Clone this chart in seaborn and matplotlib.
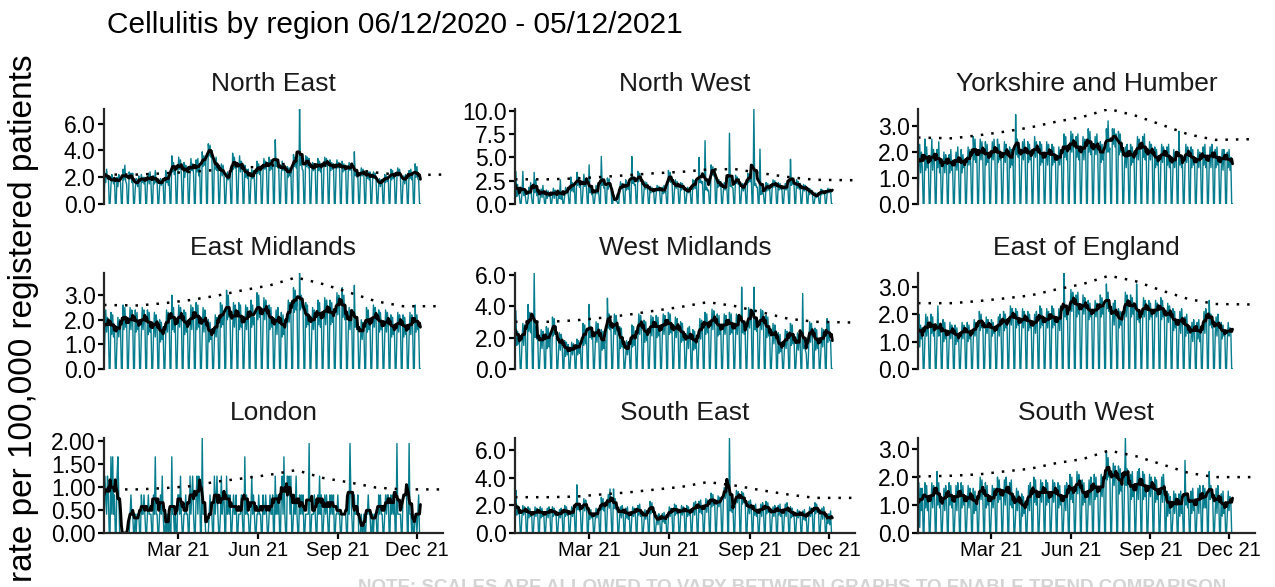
import numpy as np
import pandas as pd
import matplotlib
matplotlib.use("Agg")
import matplotlib.pyplot as plt
import seaborn as sns

# daily rate per 100,000 (Sun..Sat per row), 06/12/2020 - 05/12/2021
north_east = [
    0, 2.3, 1.6, 2.6, 1.9, 2.1, 0,
    0, 1.4, 2.2, 1.9, 1.5, 2.0, 0,
    0, 2.0, 1.3, 2.2, 1.7, 1.6, 0,
    0, 2.6, 1.8, 2.9, 1.7, 1.5, 0,
    0, 2.4, 1.9, 2.3, 1.6, 2.3, 0,
    0, 1.2, 1.9, 1.5, 1.3, 2.1, 0,
    0, 2.2, 1.6, 2.0, 1.5, 2.0, 0,
    0, 1.7, 2.3, 1.5, 2.4, 1.6, 0,
    0, 2.1, 1.5, 2.5, 1.6, 1.8, 0,
    0, 1.3, 1.9, 1.4, 1.8, 1.6, 0,
    0, 2.5, 1.6, 2.1, 1.4, 1.9, 0,
    0, 3.6, 2.4, 3.1, 2.2, 2.7, 0,
    0, 2.4, 3.5, 2.6, 3.3, 2.2, 0,
    0, 3.1, 2.0, 2.9, 2.4, 2.6, 0,
    0, 2.3, 3.4, 2.5, 3.0, 2.3, 0,
    0, 3.3, 2.4, 3.4, 2.1, 2.8, 0,
    0, 3.9, 2.8, 3.6, 2.9, 3.3, 0,
    0, 4.5, 3.6, 4.4, 3.5, 4.0, 0,
    0, 3.4, 2.6, 3.5, 2.5, 3.0, 0,
    0, 2.2, 3.0, 2.1, 2.9, 2.3, 0,
    0, 1.6, 2.4, 1.8, 2.3, 1.9, 0,
    0, 3.8, 2.6, 3.5, 2.7, 2.9, 0,
    0, 2.5, 3.6, 2.4, 3.2, 2.8, 0,
    0, 2.9, 2.0, 2.6, 1.9, 2.6, 0,
    0, 1.7, 2.6, 1.9, 2.5, 1.8, 0,
    0, 3.2, 2.3, 3.0, 2.2, 2.8, 0,
    0, 2.5, 3.4, 2.6, 3.2, 2.5, 0,
    0, 3.5, 2.5, 3.3, 2.6, 3.1, 0,
    0, 4.8, 2.8, 3.3, 2.7, 2.9, 0,
    0, 2.3, 3.2, 2.5, 3.0, 2.5, 0,
    0, 2.8, 2.0, 2.7, 2.1, 2.4, 0,
    0, 3.7, 2.8, 3.5, 2.7, 3.3, 0,
    0, 7.1, 2.9, 3.4, 2.6, 2.5, 0,
    0, 3.6, 2.8, 3.5, 2.7, 3.4, 0,
    0, 2.3, 3.1, 2.5, 3.0, 2.6, 0,
    0, 3.4, 2.5, 3.2, 2.4, 3.0, 0,
    0, 2.7, 3.5, 2.8, 3.4, 2.9, 0,
    0, 3.3, 2.5, 3.1, 2.6, 3.0, 0,
    0, 2.5, 3.3, 2.7, 3.1, 2.6, 0,
    0, 3.2, 2.4, 3.0, 2.5, 2.9, 0,
    0, 2.4, 3.1, 2.5, 3.0, 2.5, 0,
    0, 3.9, 2.1, 2.4, 2.0, 2.1, 0,
    0, 2.0, 2.7, 2.1, 2.6, 2.1, 0,
    0, 2.5, 1.9, 2.4, 1.8, 2.4, 0,
    0, 1.8, 2.4, 1.9, 2.3, 1.8, 0,
    0, 1.4, 1.9, 1.3, 1.8, 1.6, 0,
    0, 2.2, 1.6, 2.1, 1.7, 1.9, 0,
    0, 2.6, 1.8, 2.5, 1.9, 2.2, 0,
    0, 2.0, 2.7, 2.1, 2.6, 2.1, 0,
    0, 1.6, 2.1, 1.5, 2.2, 1.9, 0,
    0, 2.5, 1.9, 2.6, 1.8, 2.2, 0,
    0, 3.0, 2.0, 2.8, 1.9, 1.8, 0,
    0,
]

north_west = [
    0, 3.5, 0.8, 2.1, 1.0, 0.9, 0,
    0, 1.1, 3.5, 0.9, 1.6, 0.7, 0,
    0, 0.6, 1.8, 1.1, 2.3, 0.7, 0,
    0, 3.4, 1.2, 2.6, 0.9, 1.4, 0,
    0, 0.8, 1.6, 0.7, 2.0, 0.9, 0,
    0, 1.5, 0.6, 1.4, 0.8, 1.2, 0,
    0, 0.9, 1.7, 0.6, 1.5, 1.1, 0,
    0, 1.2, 0.6, 2.6, 0.5, 0.9, 0,
    0, 0.9, 1.8, 1.1, 1.6, 1.1, 0,
    0, 2.9, 1.4, 2.3, 1.3, 2.1, 0,
    0, 3.4, 2.0, 2.9, 1.8, 2.4, 0,
    0, 1.6, 3.2, 1.9, 2.6, 1.7, 0,
    0, 4.2, 1.2, 1.8, 1.0, 1.3, 0,
    0, 1.0, 2.0, 1.1, 1.7, 1.2, 0,
    0, 5.1, 2.0, 2.4, 1.7, 1.8, 0,
    0, 2.8, 1.6, 2.7, 1.9, 2.0, 0,
    0, 0.9, 0.4, 0.6, 0.3, 0.3, 0,
    0, 1.3, 2.4, 1.6, 2.2, 1.5, 0,
    0, 2.6, 1.5, 2.3, 1.6, 2.0, 0,
    0, 5.1, 2.2, 2.6, 2.0, 2.1, 0,
    0, 3.5, 2.4, 3.3, 2.6, 2.7, 0,
    0, 1.5, 2.4, 1.6, 2.3, 1.7, 0,
    0, 1.9, 1.2, 1.8, 1.3, 1.5, 0,
    0, 1.2, 2.0, 1.4, 1.9, 1.3, 0,
    0, 1.8, 1.1, 2.0, 1.2, 1.4, 0,
    0, 3.6, 2.4, 3.4, 2.3, 2.8, 0,
    0, 1.6, 2.6, 1.7, 2.4, 1.7, 0,
    0, 2.3, 1.5, 2.2, 1.6, 1.9, 0,
    0, 1.0, 1.8, 1.2, 1.7, 1.3, 0,
    0, 2.6, 1.6, 2.5, 1.7, 2.1, 0,
    0, 5.0, 2.3, 2.6, 2.2, 2.4, 0,
    0, 6.8, 1.5, 1.8, 1.4, 1.5, 0,
    0, 4.2, 3.1, 4.0, 3.0, 3.7, 0,
    0, 2.8, 1.8, 2.6, 1.9, 2.4, 0,
    0, 1.4, 2.3, 1.5, 2.1, 1.7, 0,
    0, 7.6, 1.9, 2.0, 1.8, 1.7, 0,
    0, 3.1, 2.2, 2.9, 2.1, 2.7, 0,
    0, 1.5, 2.2, 1.4, 2.1, 1.8, 0,
    0, 3.3, 2.3, 3.2, 2.4, 2.8, 0,
    0, 10.2, 2.0, 2.2, 1.8, 1.8, 0,
    0, 5.9, 1.0, 1.4, 1.1, 1.1, 0,
    0, 2.3, 1.4, 2.2, 1.5, 1.9, 0,
    0, 1.7, 2.6, 1.8, 2.5, 1.9, 0,
    0, 2.3, 1.5, 2.2, 1.6, 1.9, 0,
    0, 1.4, 2.2, 1.5, 2.1, 1.8, 0,
    0, 4.8, 2.0, 2.4, 2.1, 2.2, 0,
    0, 2.6, 1.7, 2.4, 1.6, 2.2, 0,
    0, 1.3, 2.1, 1.4, 2.0, 1.7, 0,
    0, 1.7, 1.0, 1.6, 1.1, 1.4, 0,
    0, 0.6, 1.2, 0.7, 1.1, 0.9, 0,
    0, 1.6, 1.0, 1.5, 1.1, 1.3, 0,
    0, 1.1, 1.7, 1.2, 1.6, 1.4, 0,
    0,
]

yorkshire = [
    0, 1.4, 2.3, 1.2, 2.0, 1.4, 0,
    0, 2.5, 1.3, 2.2, 1.4, 1.6, 0,
    0, 1.5, 2.5, 1.3, 2.1, 1.6, 0,
    0, 2.1, 1.4, 2.4, 1.2, 1.65, 0,
    0, 1.3, 2.0, 1.2, 1.9, 1.6, 0,
    0, 1.9, 1.2, 2.1, 1.3, 1.5, 0,
    0, 1.4, 2.0, 1.3, 2.2, 1.35, 0,
    0, 2.1, 1.2, 1.9, 1.4, 1.65, 0,
    0, 1.4, 2.2, 1.5, 2.1, 1.55, 0,
    0, 2.6, 1.7, 2.5, 1.6, 2.1, 0,
    0, 1.6, 2.5, 1.7, 2.4, 1.8, 0,
    0, 2.4, 1.5, 2.3, 1.6, 1.95, 0,
    0, 1.6, 2.4, 1.7, 2.5, 1.8, 0,
    0, 2.5, 1.6, 2.3, 1.7, 1.9, 0,
    0, 1.5, 2.4, 1.6, 2.3, 1.95, 0,
    0, 2.2, 1.4, 2.1, 1.5, 1.8, 0,
    0, 3.45, 1.9, 2.5, 1.8, 2.1, 0,
    0, 1.6, 2.4, 1.7, 2.5, 1.8, 0,
    0, 2.4, 1.6, 2.3, 1.7, 2.0, 0,
    0, 1.7, 2.6, 1.8, 2.4, 2.0, 0,
    0, 2.4, 1.5, 2.3, 1.6, 1.95, 0,
    0, 1.6, 2.4, 1.5, 2.3, 1.95, 0,
    0, 2.3, 1.5, 2.2, 1.6, 1.9, 0,
    0, 1.4, 2.2, 1.5, 2.1, 1.8, 0,
    0, 2.7, 1.8, 2.6, 1.7, 2.2, 0,
    0, 1.9, 2.8, 2.0, 2.7, 2.1, 0,
    0, 2.6, 1.8, 2.7, 1.7, 2.2, 0,
    0, 1.8, 2.6, 1.7, 2.5, 2.15, 0,
    0, 2.9, 2.0, 2.8, 1.9, 2.4, 0,
    0, 1.8, 2.6, 1.9, 2.7, 2.0, 0,
    0, 2.4, 1.6, 2.3, 1.7, 2.0, 0,
    0, 2.9, 2.0, 3.2, 2.0, 2.15, 0,
    0, 2.9, 2.3, 2.9, 2.2, 2.7, 0,
    0, 2.8, 1.9, 2.7, 2.0, 2.35, 0,
    0, 1.5, 2.2, 1.4, 2.3, 1.85, 0,
    0, 2.3, 1.5, 2.2, 1.6, 1.9, 0,
    0, 1.8, 2.6, 1.7, 2.5, 2.15, 0,
    0, 2.6, 1.8, 2.7, 1.7, 2.2, 0,
    0, 1.6, 2.4, 1.7, 2.3, 2.0, 0,
    0, 2.2, 1.4, 2.1, 1.5, 1.8, 0,
    0, 1.5, 2.3, 1.6, 2.2, 1.9, 0,
    0, 2.2, 1.5, 2.3, 1.4, 1.85, 0,
    0, 1.3, 2.1, 1.4, 2.0, 1.7, 0,
    0, 2.8, 1.5, 1.9, 1.4, 1.65, 0,
    0, 1.5, 2.3, 1.6, 2.2, 1.9, 0,
    0, 2.2, 1.4, 2.1, 1.5, 1.8, 0,
    0, 1.3, 2.1, 1.4, 2.0, 1.7, 0,
    0, 2.2, 1.5, 2.3, 1.4, 1.85, 0,
    0, 1.5, 2.2, 1.4, 2.3, 1.85, 0,
    0, 2.1, 1.4, 2.2, 1.5, 1.8, 0,
    0, 1.4, 2.1, 1.3, 2.1, 1.85, 0,
    0, 2.0, 1.4, 2.1, 1.3, 1.8, 0,
    0,
]

east_midlands = [
    0, 1.3, 2.4, 1.5, 2.1, 1.7, 0,
    0, 2.3, 1.4, 2.2, 1.3, 1.8, 0,
    0, 1.2, 2.1, 1.3, 2.0, 1.65, 0,
    0, 2.6, 1.6, 2.5, 1.7, 2.1, 0,
    0, 1.5, 2.5, 1.6, 2.4, 2.0, 0,
    0, 2.4, 1.5, 2.3, 1.6, 1.95, 0,
    0, 1.5, 2.5, 1.6, 2.4, 2.0, 0,
    0, 2.4, 1.4, 2.3, 1.5, 1.9, 0,
    0, 1.4, 2.3, 1.3, 2.2, 1.8, 0,
    0, 2.0, 1.1, 1.9, 1.2, 1.55, 0,
    0, 1.4, 2.4, 1.5, 2.3, 1.9, 0,
    0, 3.0, 1.6, 2.5, 1.5, 1.9, 0,
    0, 1.6, 2.6, 1.7, 2.5, 2.1, 0,
    0, 2.4, 1.4, 2.3, 1.5, 1.9, 0,
    0, 1.5, 2.6, 1.6, 2.5, 2.05, 0,
    0, 2.7, 1.6, 2.6, 1.7, 2.15, 0,
    0, 1.4, 2.5, 1.5, 2.4, 1.95, 0,
    0, 2.0, 1.1, 1.9, 1.2, 1.55, 0,
    0, 1.2, 2.2, 1.3, 2.1, 1.7, 0,
    0, 2.7, 1.7, 2.6, 1.8, 2.2, 0,
    0, 3.2, 2.0, 3.0, 2.1, 2.2, 0,
    0, 1.6, 2.7, 1.7, 2.6, 2.15, 0,
    0, 2.7, 1.6, 2.6, 1.7, 2.15, 0,
    0, 1.5, 2.6, 1.6, 2.5, 2.05, 0,
    0, 2.8, 1.7, 2.6, 1.8, 2.1, 0,
    0, 3.1, 2.0, 3.0, 2.1, 2.3, 0,
    0, 1.9, 2.9, 2.0, 2.8, 2.4, 0,
    0, 2.6, 1.6, 2.5, 1.7, 2.1, 0,
    0, 1.5, 2.4, 1.4, 2.5, 1.95, 0,
    0, 2.3, 1.3, 2.2, 1.4, 1.8, 0,
    0, 1.8, 2.8, 1.9, 2.7, 2.3, 0,
    0, 3.3, 2.3, 3.2, 2.4, 2.8, 0,
    0, 3.9, 2.4, 3.0, 2.5, 2.45, 0,
    0, 2.7, 1.7, 2.6, 1.8, 2.2, 0,
    0, 1.5, 2.5, 1.6, 2.4, 2.0, 0,
    0, 2.8, 1.8, 2.7, 1.7, 2.25, 0,
    0, 1.9, 2.9, 1.8, 2.8, 2.35, 0,
    0, 2.8, 1.8, 2.7, 1.9, 2.3, 0,
    0, 2.1, 3.1, 2.2, 3.0, 2.6, 0,
    0, 3.3, 2.1, 3.0, 2.0, 2.6, 0,
    0, 1.5, 2.5, 1.6, 2.4, 2.0, 0,
    0, 3.4, 1.7, 2.0, 1.6, 1.8, 0,
    0, 1.1, 2.0, 1.2, 1.9, 1.55, 0,
    0, 2.5, 1.5, 2.4, 1.6, 2.0, 0,
    0, 1.6, 2.6, 1.7, 2.5, 2.1, 0,
    0, 2.4, 1.5, 2.3, 1.6, 1.95, 0,
    0, 1.4, 2.4, 1.5, 2.3, 1.9, 0,
    0, 2.2, 1.3, 2.1, 1.4, 1.75, 0,
    0, 1.4, 2.3, 1.5, 2.2, 1.85, 0,
    0, 2.2, 1.3, 2.1, 1.4, 1.75, 0,
    0, 1.3, 2.3, 1.4, 2.2, 1.8, 0,
    0, 2.6, 1.5, 2.2, 1.6, 1.8, 0,
    0,
]

west_midlands = [
    0, 3.7, 1.5, 2.4, 1.6, 1.8, 0,
    0, 1.6, 2.9, 1.5, 2.8, 2.2, 0,
    0, 4.1, 2.4, 3.6, 2.3, 3.1, 0,
    0, 6.1, 2.0, 2.7, 1.9, 2.3, 0,
    0, 1.2, 2.5, 1.3, 2.4, 1.85, 0,
    0, 2.7, 1.3, 2.6, 1.4, 2.0, 0,
    0, 3.3, 2.1, 3.2, 2.2, 2.7, 0,
    0, 1.1, 2.3, 1.2, 2.2, 1.7, 0,
    0, 1.8, 0.8, 1.7, 0.9, 1.55, 0,
    0, 0.8, 1.7, 0.9, 1.6, 1.25, 0,
    0, 1.9, 0.9, 1.8, 1.0, 1.4, 0,
    0, 2.9, 1.5, 2.8, 1.6, 2.2, 0,
    0, 4.1, 2.0, 2.7, 1.9, 2.3, 0,
    0, 1.6, 3.0, 1.7, 2.9, 2.3, 0,
    0, 2.5, 1.2, 2.4, 1.3, 1.85, 0,
    0, 4.5, 2.6, 3.5, 2.5, 2.9, 0,
    0, 2.1, 3.5, 2.2, 3.4, 2.8, 0,
    0, 2.7, 1.3, 2.6, 1.4, 2.0, 0,
    0, 0.8, 1.8, 0.9, 1.7, 1.3, 0,
    0, 2.8, 1.4, 2.7, 1.5, 2.1, 0,
    0, 2.1, 3.5, 2.2, 3.4, 2.8, 0,
    0, 3.1, 1.7, 3.0, 1.8, 2.4, 0,
    0, 2.0, 3.4, 2.1, 3.3, 2.7, 0,
    0, 3.4, 2.0, 3.3, 2.1, 2.7, 0,
    0, 2.1, 3.5, 2.2, 3.4, 2.8, 0,
    0, 3.6, 2.2, 3.5, 2.3, 2.9, 0,
    0, 1.9, 3.3, 2.0, 3.2, 2.6, 0,
    0, 3.0, 1.7, 2.9, 1.8, 2.35, 0,
    0, 1.4, 2.6, 1.3, 2.7, 2.0, 0,
    0, 2.5, 1.2, 2.4, 1.3, 1.85, 0,
    0, 1.8, 3.2, 1.9, 3.1, 2.5, 0,
    0, 3.6, 2.2, 3.5, 2.3, 2.9, 0,
    0, 2.4, 3.8, 2.5, 3.7, 3.1, 0,
    0, 3.5, 2.1, 3.4, 2.2, 2.8, 0,
    0, 2.1, 3.5, 2.2, 3.4, 2.8, 0,
    0, 3.6, 2.2, 3.5, 2.3, 2.9, 0,
    0, 2.1, 3.5, 2.2, 3.4, 2.8, 0,
    0, 5.2, 2.3, 2.9, 2.2, 2.4, 0,
    0, 2.5, 3.9, 2.6, 3.8, 3.2, 0,
    0, 5.2, 2.5, 3.2, 2.4, 2.95, 0,
    0, 2.4, 3.8, 2.5, 3.7, 3.1, 0,
    0, 3.4, 2.0, 3.3, 2.1, 2.7, 0,
    0, 1.5, 2.9, 1.6, 2.8, 2.2, 0,
    0, 2.3, 1.0, 2.2, 1.1, 1.4, 0,
    0, 1.2, 2.5, 1.3, 2.4, 1.85, 0,
    0, 2.9, 1.5, 2.8, 1.6, 2.2, 0,
    0, 1.1, 2.3, 1.2, 2.2, 1.7, 0,
    0, 4.8, 1.3, 1.5, 1.2, 1.0, 0,
    0, 1.6, 3.0, 1.7, 2.9, 2.3, 0,
    0, 2.6, 1.2, 2.5, 1.3, 1.9, 0,
    0, 1.3, 2.6, 1.4, 2.5, 1.95, 0,
    0, 3.2, 1.7, 3.0, 1.8, 1.8, 0,
    0,
]

east_of_england = [
    0, 2.0, 0.8, 1.6, 1.1, 1.5, 0,
    0, 1.1, 2.0, 1.2, 1.9, 1.3, 0,
    0, 2.0, 1.3, 1.9, 1.2, 1.6, 0,
    0, 1.1, 2.3, 1.2, 1.5, 1.4, 0,
    0, 1.8, 1.0, 1.7, 1.1, 1.4, 0,
    0, 1.0, 1.7, 1.1, 1.6, 1.35, 0,
    0, 1.6, 0.9, 1.5, 1.0, 1.25, 0,
    0, 1.0, 1.7, 1.1, 1.6, 1.35, 0,
    0, 1.7, 1.0, 1.6, 1.1, 1.35, 0,
    0, 1.1, 1.8, 1.2, 1.7, 1.45, 0,
    0, 2.1, 1.4, 2.0, 1.5, 1.75, 0,
    0, 1.2, 1.9, 1.3, 1.8, 1.55, 0,
    0, 1.8, 1.2, 1.7, 1.3, 1.5, 0,
    0, 1.3, 1.9, 1.2, 2.0, 1.6, 0,
    0, 2.1, 1.4, 2.0, 1.5, 1.75, 0,
    0, 1.5, 2.3, 1.6, 2.2, 1.9, 0,
    0, 2.2, 1.5, 2.1, 1.6, 1.85, 0,
    0, 1.4, 2.2, 1.5, 2.1, 1.8, 0,
    0, 2.1, 1.4, 2.0, 1.5, 1.75, 0,
    0, 1.4, 2.0, 1.3, 2.1, 1.7, 0,
    0, 2.3, 1.5, 2.2, 1.6, 1.9, 0,
    0, 1.4, 2.2, 1.5, 2.1, 1.8, 0,
    0, 2.3, 1.5, 2.2, 1.6, 1.9, 0,
    0, 1.5, 2.2, 1.4, 2.3, 1.85, 0,
    0, 3.5, 1.9, 2.3, 1.8, 2.0, 0,
    0, 2.0, 2.9, 2.1, 2.8, 2.45, 0,
    0, 2.7, 1.9, 2.8, 2.0, 2.35, 0,
    0, 1.9, 2.7, 2.0, 2.6, 2.3, 0,
    0, 2.5, 1.8, 2.4, 1.9, 2.15, 0,
    0, 1.8, 2.5, 1.9, 2.4, 2.15, 0,
    0, 2.7, 1.9, 2.6, 2.0, 2.3, 0,
    0, 3.1, 2.2, 2.8, 2.1, 2.3, 0,
    0, 1.7, 2.4, 1.6, 2.5, 2.05, 0,
    0, 2.2, 1.5, 2.1, 1.6, 1.85, 0,
    0, 2.0, 2.8, 1.9, 2.7, 2.35, 0,
    0, 2.7, 1.9, 2.6, 2.0, 2.3, 0,
    0, 3.1, 1.8, 2.0, 1.7, 2.1, 0,
    0, 1.8, 2.6, 1.9, 2.5, 2.2, 0,
    0, 2.5, 1.8, 2.4, 1.9, 2.15, 0,
    0, 1.8, 2.5, 1.9, 2.4, 2.15, 0,
    0, 2.6, 1.8, 2.5, 1.9, 2.2, 0,
    0, 1.6, 2.4, 1.7, 2.3, 2.0, 0,
    0, 2.2, 1.4, 2.1, 1.5, 1.8, 0,
    0, 1.4, 2.1, 1.3, 2.2, 1.75, 0,
    0, 1.9, 1.2, 2.0, 1.3, 1.6, 0,
    0, 1.1, 1.7, 1.0, 1.8, 1.4, 0,
    0, 1.7, 1.1, 1.8, 1.0, 1.4, 0,
    0, 1.4, 2.1, 1.3, 2.2, 1.75, 0,
    0, 2.5, 1.6, 2.0, 1.5, 1.9, 0,
    0, 1.3, 1.9, 1.2, 2.0, 1.6, 0,
    0, 1.7, 1.1, 1.6, 1.2, 1.4, 0,
    0, 1.1, 1.7, 1.2, 1.5, 1.4, 0,
    0,
]

london = [
    0, 1.24, 0.83, 0.41, 1.24, 0.83, 0,
    0, 1.66, 0.41, 1.66, 0.41, 0.83, 0,
    0, 1.24, 1.66, 0.83, 0, 0, 0,
    0, 0, 0, 0, 0, 0, 0,
    0, 0, 0.41, 0.83, 0.41, 0.41, 0,
    0, 0.41, 0, 0.41, 0.41, 0.41, 0,
    0, 0.83, 0.41, 0.41, 0.83, 0.41, 0,
    0, 0.41, 0.83, 0.41, 0.41, 0.41, 0,
    0, 0.83, 0.41, 1.66, 0.41, 0.41, 0,
    0, 0.41, 0.83, 0.41, 1.24, 0.41, 0,
    0, 0.41, 0, 0.41, 0, 0.41, 0,
    0, 1.66, 0.41, 0.41, 0, 0.41, 0,
    0, 0.83, 0.83, 0.41, 1.24, 0.41, 0,
    0, 0.41, 0.41, 0.83, 0.41, 0.41, 0,
    0, 1.24, 0.41, 0.83, 1.24, 0.41, 0,
    0, 0.83, 1.24, 0.41, 1.24, 0.83, 0,
    0, 2.07, 0.41, 0.41, 0.41, 0, 0,
    0, 0, 0.41, 0.83, 0.41, 0.41, 0,
    0, 1.24, 0.41, 0.83, 1.24, 0.41, 0,
    0, 0.41, 1.24, 0.41, 0.83, 0.83, 0,
    0, 1.24, 0.41, 0.83, 0.41, 0.83, 0,
    0, 0.41, 0.83, 0.41, 0.41, 0.83, 0,
    0, 0.41, 0.41, 0.41, 0.83, 0.41, 0,
    0, 1.66, 0.41, 0.83, 0.41, 0.41, 0,
    0, 0.41, 1.24, 0.41, 0.83, 0.41, 0,
    0, 0.41, 0.41, 0.83, 0.41, 0.41, 0,
    0, 0.83, 0.41, 0.41, 0.83, 0.41, 0,
    0, 0.41, 0.83, 0.41, 0.41, 0.83, 0,
    0, 1.24, 0.41, 0.83, 0.41, 0.83, 0,
    0, 0.83, 1.24, 0.41, 1.66, 0.41, 0,
    0, 1.24, 0.83, 1.24, 0.41, 1.24, 0,
    0, 0.41, 0.83, 0.41, 1.24, 0.41, 0,
    0, 0.83, 0.41, 0.83, 0.41, 0.83, 0,
    0, 0.41, 0.41, 0.41, 0.41, 1.95, 0,
    0, 0.41, 0.41, 0.41, 0.83, 0.41, 0,
    0, 0.83, 0.41, 1.24, 0.41, 0.83, 0,
    0, 0.41, 0.83, 0.41, 0.83, 0.41, 0,
    0, 0.83, 0.41, 0.83, 0.41, 0.83, 0,
    0, 0.41, 0.41, 0.83, 0.41, 0.41, 0,
    0, 0.41, 0.41, 0.41, 0.41, 0.41, 0,
    0, 0.83, 0.41, 1.95, 0.83, 0.41, 0,
    0, 0.83, 0.41, 0.41, 0.41, 0.83, 0,
    0, 0, 0.41, 0, 0, 0.41, 0,
    0, 0.41, 0.41, 0.83, 0.41, 0.41, 0,
    0, 0.41, 0, 0.41, 0.41, 0.41, 0,
    0, 0.83, 0.41, 0.83, 0.41, 0.41, 0,
    0, 0.41, 0.83, 0.41, 0.83, 0.83, 0,
    0, 0.83, 0.41, 0.83, 0.41, 0.83, 0,
    0, 1.95, 0.41, 0.41, 0.41, 0.41, 0,
    0, 0.83, 0.83, 0.83, 0.83, 0.83, 0,
    0, 1.95, 0.41, 0.41, 0, 0.41, 0,
    0, 0.41, 0.41, 0, 0.41, 0.83, 0,
    0,
]

south_east = [
    0, 3.1, 1.3, 2.0, 1.4, 1.5, 0,
    0, 1.2, 2.0, 1.3, 1.9, 1.6, 0,
    0, 1.9, 1.1, 1.8, 1.2, 1.5, 0,
    0, 1.1, 1.9, 1.2, 1.8, 1.5, 0,
    0, 1.9, 1.1, 1.8, 1.2, 1.5, 0,
    0, 1.2, 1.8, 1.1, 1.9, 1.5, 0,
    0, 1.9, 1.2, 1.8, 1.3, 1.55, 0,
    0, 1.0, 1.7, 1.1, 1.8, 1.4, 0,
    0, 2.0, 1.2, 1.9, 1.3, 1.6, 0,
    0, 1.1, 1.9, 1.2, 1.8, 1.5, 0,
    0, 3.5, 1.7, 2.0, 1.6, 1.7, 0,
    0, 1.7, 2.5, 1.6, 2.4, 2.05, 0,
    0, 1.8, 1.0, 1.7, 1.1, 1.4, 0,
    0, 1.0, 1.8, 1.1, 1.7, 1.4, 0,
    0, 2.6, 1.7, 2.5, 1.6, 2.1, 0,
    0, 1.9, 2.8, 1.8, 3.2, 1.8, 0,
    0, 3.2, 1.8, 2.5, 1.7, 1.8, 0,
    0, 1.2, 1.9, 1.1, 2.0, 1.55, 0,
    0, 1.8, 1.1, 1.9, 1.0, 1.45, 0,
    0, 1.1, 1.9, 1.2, 1.8, 1.5, 0,
    0, 2.0, 1.3, 2.1, 1.2, 1.65, 0,
    0, 0.9, 1.7, 1.0, 1.6, 1.3, 0,
    0, 2.3, 1.4, 2.2, 1.5, 1.85, 0,
    0, 0.7, 1.3, 0.6, 1.4, 1.0, 0,
    0, 1.4, 0.8, 1.5, 0.7, 1.1, 0,
    0, 1.1, 1.9, 1.2, 1.8, 1.5, 0,
    0, 2.1, 1.3, 2.0, 1.4, 1.7, 0,
    0, 1.2, 2.0, 1.3, 1.9, 1.6, 0,
    0, 2.0, 1.2, 1.9, 1.3, 1.6, 0,
    0, 1.4, 2.2, 1.3, 2.3, 1.8, 0,
    0, 2.3, 1.5, 2.4, 1.4, 1.9, 0,
    0, 1.6, 2.5, 1.5, 2.4, 2.0, 0,
    0, 2.9, 1.9, 2.8, 2.0, 2.4, 0,
    0, 1.8, 2.7, 1.9, 2.6, 2.25, 0,
    0, 2.4, 3.3, 2.5, 3.0, 3.8, 0,
    0, 6.9, 1.6, 2.0, 1.5, 1.9, 0,
    0, 2.1, 3.1, 2.2, 3.0, 2.6, 0,
    0, 3.0, 2.1, 2.9, 2.2, 2.55, 0,
    0, 1.5, 2.3, 1.4, 2.4, 1.9, 0,
    0, 2.0, 1.3, 2.1, 1.2, 1.65, 0,
    0, 1.3, 2.1, 1.2, 2.2, 1.7, 0,
    0, 2.3, 1.4, 2.2, 1.5, 1.85, 0,
    0, 1.1, 1.9, 1.2, 2.0, 1.55, 0,
    0, 2.0, 1.3, 2.1, 1.2, 1.65, 0,
    0, 1.3, 2.1, 1.2, 2.2, 1.7, 0,
    0, 1.9, 1.1, 1.8, 1.2, 1.5, 0,
    0, 1.0, 1.7, 1.1, 1.6, 1.35, 0,
    0, 1.6, 1.0, 1.7, 0.9, 1.3, 0,
    0, 1.1, 1.9, 1.2, 1.8, 1.5, 0,
    0, 2.2, 1.4, 2.1, 1.5, 1.8, 0,
    0, 1.1, 1.8, 1.0, 1.9, 1.45, 0,
    0, 1.3, 0.7, 1.4, 0.6, 1.6, 0,
    0,
]

south_west = [
    0, 1.8, 0.2, 1.6, 0.8, 1.6, 0,
    0, 1.8, 0.9, 1.7, 0.8, 1.3, 0,
    0, 1.0, 1.8, 0.9, 1.7, 1.35, 0,
    0, 2.2, 1.0, 1.8, 0.9, 1.1, 0,
    0, 0.9, 1.6, 0.8, 1.7, 1.25, 0,
    0, 1.8, 1.0, 1.7, 0.9, 1.35, 0,
    0, 0.9, 1.7, 0.8, 1.8, 1.3, 0,
    0, 1.8, 0.9, 1.7, 1.0, 1.35, 0,
    0, 0.8, 1.7, 0.9, 1.6, 1.25, 0,
    0, 1.6, 0.7, 1.5, 0.8, 1.15, 0,
    0, 1.1, 2.0, 1.2, 1.9, 1.3, 0,
    0, 1.8, 0.9, 1.7, 1.0, 1.35, 0,
    0, 0.8, 1.7, 0.9, 1.6, 1.25, 0,
    0, 2.0, 1.1, 1.9, 1.2, 1.55, 0,
    0, 1.1, 1.9, 1.0, 2.0, 1.5, 0,
    0, 1.8, 1.0, 1.9, 0.9, 1.4, 0,
    0, 0.7, 1.6, 0.8, 1.5, 1.15, 0,
    0, 1.4, 0.6, 1.3, 0.7, 1.0, 0,
    0, 0.9, 1.7, 0.8, 1.8, 1.3, 0,
    0, 2.0, 1.1, 1.9, 1.0, 1.5, 0,
    0, 1.0, 1.9, 1.1, 1.8, 1.45, 0,
    0, 1.9, 1.0, 1.8, 1.1, 1.45, 0,
    0, 1.0, 1.9, 1.1, 1.8, 1.45, 0,
    0, 1.8, 0.9, 1.7, 1.0, 1.35, 0,
    0, 0.9, 1.7, 0.8, 1.8, 1.3, 0,
    0, 2.1, 1.2, 2.0, 1.1, 1.6, 0,
    0, 1.3, 2.2, 1.4, 2.1, 1.75, 0,
    0, 1.9, 1.0, 1.8, 1.1, 1.45, 0,
    0, 1.1, 1.9, 1.0, 2.0, 1.5, 0,
    0, 2.1, 1.2, 2.0, 1.3, 1.65, 0,
    0, 1.2, 2.1, 1.3, 2.0, 1.65, 0,
    0, 2.95, 1.9, 2.7, 2.0, 2.2, 0,
    0, 1.6, 2.5, 1.7, 2.4, 2.05, 0,
    0, 2.4, 1.4, 2.3, 1.5, 1.9, 0,
    0, 1.6, 3.4, 1.7, 2.3, 1.5, 0,
    0, 2.1, 1.2, 2.2, 1.3, 1.7, 0,
    0, 1.3, 2.2, 1.2, 2.3, 1.75, 0,
    0, 2.2, 1.2, 2.1, 1.3, 1.7, 0,
    0, 1.2, 2.1, 1.3, 2.0, 1.65, 0,
    0, 2.0, 1.1, 1.9, 1.2, 1.55, 0,
    0, 1.2, 2.0, 1.1, 2.1, 1.6, 0,
    0, 1.5, 0.6, 1.4, 0.7, 1.3, 0,
    0, 0.6, 1.5, 0.7, 1.4, 1.05, 0,
    0, 1.4, 0.6, 1.5, 0.7, 1.05, 0,
    0, 2.6, 1.0, 1.4, 0.9, 1.1, 0,
    0, 1.5, 0.7, 1.6, 0.8, 1.15, 0,
    0, 0.8, 1.6, 0.7, 1.7, 1.2, 0,
    0, 1.7, 0.9, 1.6, 0.9, 1.4, 0,
    0, 2.2, 1.2, 1.7, 1.3, 1.35, 0,
    0, 0.8, 1.6, 0.7, 1.7, 1.2, 0,
    0, 1.4, 0.6, 1.5, 0.7, 1.05, 0,
    0, 0.7, 1.5, 0.8, 1.3, 1.2, 0,
    0,
]

# dotted seasonal comparison line, read at these dates
baseline_dates = ["2020-12-06", "2021-01-15", "2021-02-15", "2021-03-15", "2021-04-15",
                  "2021-05-15", "2021-06-15", "2021-07-15", "2021-08-15", "2021-09-15",
                  "2021-10-15", "2021-11-15", "2021-12-31"]
baseline = {
    "North East": [2.2, 2.2, 2.3, 2.4, 2.55, 2.7, 2.85, 3.1, 2.9, 2.6, 2.35, 2.15, 2.2],
    "North West": [2.65, 2.65, 2.75, 2.9, 3.1, 3.3, 3.45, 3.7, 3.75, 3.3, 2.9, 2.6, 2.55],
    "Yorkshire and Humber": [2.56, 2.53, 2.65, 2.78, 2.95, 3.17, 3.36, 3.66, 3.4, 3.04, 2.68, 2.47, 2.5],
    "East Midlands": [2.6, 2.58, 2.68, 2.8, 2.98, 3.2, 3.4, 3.72, 3.45, 3.1, 2.75, 2.55, 2.55],
    "West Midlands": [3.0, 3.0, 3.1, 3.25, 3.45, 3.7, 3.95, 4.25, 4.0, 3.6, 3.2, 3.0, 2.95],
    "East of England": [2.4, 2.4, 2.48, 2.57, 2.68, 2.9, 3.1, 3.4, 3.2, 2.85, 2.55, 2.37, 2.35],
    "London": [0.95, 0.95, 0.98, 1.02, 1.12, 1.19, 1.27, 1.37, 1.2, 1.1, 0.99, 0.95, 0.95],
    "South East": [2.6, 2.6, 2.65, 2.8, 2.95, 3.15, 3.35, 3.7, 3.45, 3.1, 2.8, 2.55, 2.55],
    "South West": [2.02, 2.05, 2.1, 2.2, 2.3, 2.5, 2.65, 2.95, 2.75, 2.45, 2.15, 2.0, 2.0],
}

regions = ["North East", "North West", "Yorkshire and Humber",
           "East Midlands", "West Midlands", "East of England",
           "London", "South East", "South West"]
daily = [north_east, north_west, yorkshire, east_midlands, west_midlands,
         east_of_england, london, south_east, south_west]
yticks = [[0, 2, 4, 6], [0, 2.5, 5, 7.5, 10], [0, 1, 2, 3],
          [0, 1, 2, 3], [0, 2, 4, 6], [0, 1, 2, 3],
          [0, 0.5, 1, 1.5, 2], [0, 2, 4, 6], [0, 1, 2, 3]]
xtick_dates = ["2021-03-01", "2021-06-01", "2021-09-01", "2021-12-01"]
xtick_labels = ["Mar 21", "Jun 21", "Sep 21", "Dec 21"]

dates = pd.date_range("2020-12-06", "2021-12-05", freq="D")
bdates = pd.to_datetime(baseline_dates)

sns.set_style("ticks")
plt.rcParams["font.family"] = ["Liberation Sans", "DejaVu Sans"]

W, H = 1275, 587
fig = plt.figure(figsize=(W / 100, H / 100), dpi=100)

col_left = [104, 515, 918]
col_right = [443, 855, 1255]
row_top = [109, 273, 438]
row_bottom = [204, 369, 533]
teal = "#067d8e"

for i, name in enumerate(regions):
    r, c = divmod(i, 3)
    ax = fig.add_axes([col_left[c] / W, 1 - row_bottom[r] / H,
                       (col_right[c] - col_left[c]) / W,
                       (row_bottom[r] - row_top[r]) / H])
    s = pd.Series(daily[i], index=dates, dtype=float)
    # 7 day mean over weekdays only
    smooth = s.where(dates.dayofweek < 5).rolling(7, center=True, min_periods=1).mean()

    sns.lineplot(x=dates, y=s.values, ax=ax, color=teal, lw=1.0)
    sns.lineplot(x=dates, y=smooth.values, ax=ax, color="black", lw=2.1)
    sns.lineplot(x=bdates, y=baseline[name], ax=ax, color="black", lw=1.8,
                 linestyle=(0, (1, 3.2)))

    top = max(s.max(), max(baseline[name]))
    ax.set_ylim(0, top)
    ax.set_xlim(pd.Timestamp("2020-12-06"), pd.Timestamp("2021-12-31"))
    ax.set_yticks(yticks[i])
    fmt = "{:.2f}" if name == "London" else "{:.1f}"
    ax.set_yticklabels([fmt.format(t) for t in yticks[i]])
    ax.set_xlabel("")
    ax.set_ylabel("")
    sns.despine(ax=ax)
    ax.spines["left"].set_linewidth(1.6)
    ax.spines["bottom"].set_linewidth(1.6)
    ax.tick_params(axis="both", length=4, width=1.6, colors="black", pad=2)
    ax.tick_params(axis="y", labelsize=16.5)
    ax.tick_params(axis="x", labelsize=14.5)
    if r < 2:
        ax.spines["bottom"].set_visible(False)
        ax.set_xticks([])
    else:
        ax.set_xticks(pd.to_datetime(xtick_dates))
        ax.set_xticklabels(xtick_labels)
    ax.patch.set_alpha(0)

    cx = (col_left[c] + col_right[c]) / 2
    fig.text(cx / W, 1 - (row_top[r] - 25) / H, name, ha="center", va="center",
             fontsize=19, color="#1a1a1a")

fig.text(107 / W, 1 - 25 / H, "Cellulitis by region 06/12/2020 - 05/12/2021",
         ha="left", va="center", fontsize=21.5, color="black")
fig.text(24 / W, 1 - 318 / H, "rate per 100,000 registered patients", rotation=90,
         ha="center", va="center", fontsize=24, color="black")
fig.text(792 / W, 1 - 579 / H,
         "NOTE: SCALES ARE ALLOWED TO VARY BETWEEN GRAPHS TO ENABLE TREND COMPARISON",
         ha="center", va="top", fontsize=13.5, fontweight="bold", color="#d4d4d4")

fig.savefig("out.png", dpi=100)
